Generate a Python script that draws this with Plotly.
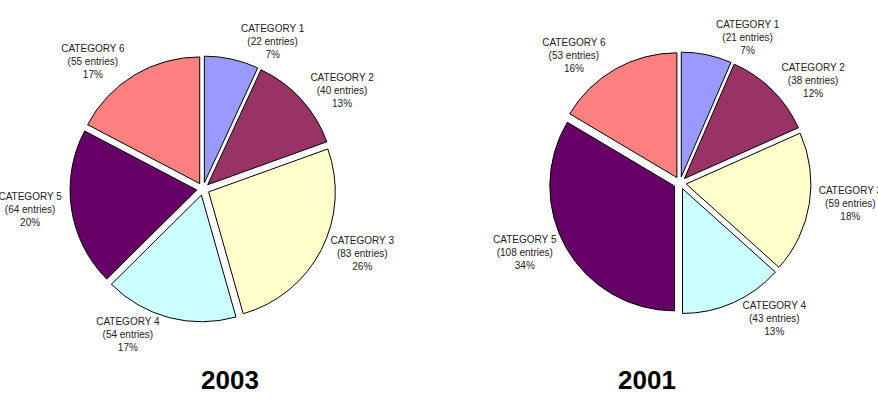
import plotly.graph_objects as go

categories = ["CATEGORY 1", "CATEGORY 2", "CATEGORY 3", "CATEGORY 4", "CATEGORY 5", "CATEGORY 6"]
entries_2003 = [22, 40, 83, 54, 64, 55]
entries_2001 = [21, 38, 59, 43, 108, 53]
colors = ["#9999FF", "#993366", "#FFFFCC", "#CCFFFF", "#660066", "#FF8080"]
years = ["2003", "2001"]

W, H = 878, 410

def dom(cx, cy, half):
    return dict(x=[(cx - half) / W, (cx + half) / W],
                y=[(H - cy - half) / H, (H - cy + half) / H])

fig = go.Figure()
for vals, d in [(entries_2003, dom(203, 189, 133)), (entries_2001, dom(680, 183, 131))]:
    fig.add_trace(go.Pie(
        labels=categories, values=vals, sort=False, direction="clockwise", rotation=0,
        marker=dict(colors=colors, line=dict(color="#000000", width=1)),
        pull=[0.05] * 6,
        texttemplate="%{label}<br>(%{value} entries)<br>%{percent:.0%}",
        textposition="outside",
        textfont=dict(family="Liberation Sans, Arial, sans-serif", size=10, color="#222222"),
        domain=d, showlegend=False, automargin=False, hoverinfo="label+value+percent",
    ))

for yr, x in zip(years, [199, 678]):
    fig.add_annotation(text="<b>%s</b>" % yr, x=x / W, y=(H - 397) / H, xref="paper", yref="paper",
                       showarrow=False, font=dict(family="Liberation Sans, Arial, sans-serif", size=26, color="#000000"))

fig.update_layout(width=W, height=H, margin=dict(l=0, r=0, t=0, b=0),
                  paper_bgcolor="white", plot_bgcolor="white")
fig.write_html("out.html")
